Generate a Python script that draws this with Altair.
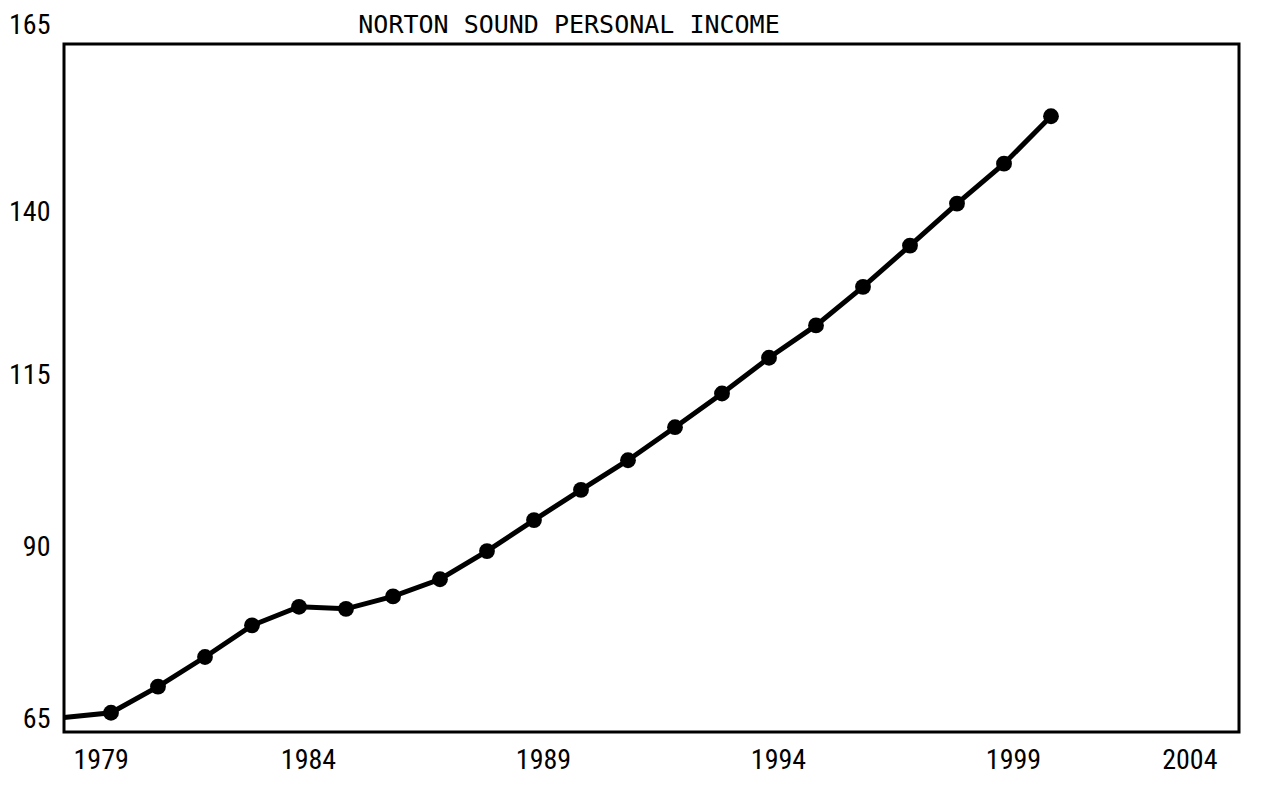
import altair as alt
import pandas as pd

TITLE = "NORTON SOUND PERSONAL INCOME"
years = list(range(1979, 2001))
income = [67.1, 67.8, 71.6, 75.9, 80.5, 83.2, 82.9, 84.7, 87.2, 91.3, 95.8,
          100.2, 104.5, 109.3, 114.2, 119.4, 124.1, 129.7, 135.7, 141.8, 147.6, 154.5]
marked = [False] + [True] * 21
x_ticks = [1979, 1984, 1989, 1994, 1999, 2004]
y_ticks = [65, 90, 115, 140, 165]

df = pd.DataFrame({"year": years, "income": income, "marked": marked})

LABEL_FONT = "Liberation Sans Narrow, Roboto Condensed, Liberation Sans"

x = alt.X("year:Q", scale=alt.Scale(domain=[1979, 2004], nice=False, zero=False),
          axis=alt.Axis(values=x_ticks, format="d", title=None, grid=False, ticks=False,
                        domain=False, labelFont=LABEL_FONT, labelFontSize=28,
                        labelColor="black", labelPadding=14,
                        labelOffset={"condition": {"test": "datum.value == 2004", "value": -22},
                                     "value": 9}))
y = alt.Y("income:Q", scale=alt.Scale(domain=[65, 165], nice=False, zero=False),
          axis=alt.Axis(values=y_ticks, title=None, grid=False, ticks=False,
                        domain=False, labelFont=LABEL_FONT, labelFontSize=28,
                        labelColor="black", labelPadding=14,
                        labelOffset={"condition": [
                            {"test": "datum.value == 165", "value": -19},
                            {"test": "datum.value == 140", "value": -4}],
                            "value": -13}))

base = alt.Chart(df)
line = base.mark_line(color="black", strokeWidth=5, interpolate="linear").encode(x=x, y=y)
pts = base.transform_filter("datum.marked").mark_point(
    filled=True, color="black", size=250, opacity=1).encode(x=x, y=y)

title = alt.Chart(pd.DataFrame({"t": [TITLE]})).mark_text(
    font="DejaVu Sans Mono", fontSize=25, color="black", align="center",
    baseline="top").encode(text="t:N", x=alt.value(505), y=alt.value(-31))

chart = alt.layer(line, pts, title).properties(
    width=1175, height=688,
    autosize=alt.AutoSizeParams(type="none"),
    padding={"left": 56, "top": 36, "right": 14, "bottom": 45},
    background="white",
).configure_view(stroke="black", strokeWidth=3)

chart.save("out.html", embed_options={"renderer": "svg", "actions": False})
